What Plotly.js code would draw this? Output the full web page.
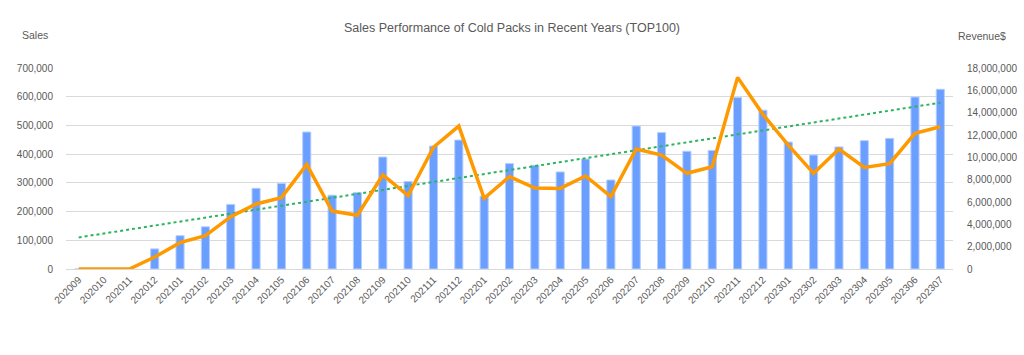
<!DOCTYPE html>
<html>
<head>
<meta charset="utf-8">
<script src="https://cdn.plot.ly/plotly-3.0.1.min.js"></script>
<style>html,body{margin:0;padding:0;background:#fff}#chart{width:1024px;height:355px}</style>
</head>
<body>
<div id="chart"></div>
<script>
const months = ["202009","202010","202011","202012","202101","202102","202103","202104","202105","202106","202107","202108","202109","202110","202111","202112","202201","202202","202203","202204","202205","202206","202207","202208","202209","202210","202211","202212","202301","202302","202303","202304","202305","202306","202307"];
const sales = [0,0,0,70000,116000,147000,225000,281000,298000,477000,257000,266000,390000,305000,428000,449000,254000,367000,361000,338000,383000,310000,498000,475000,410000,413000,597000,553000,442000,397000,425000,447000,455000,599000,626000];
const revenue = [0,0,0,1070000,2360000,2980000,4690000,5820000,6390000,9370000,5190000,4810000,8420000,6570000,10900000,12800000,6330000,8270000,7250000,7220000,8330000,6480000,10750000,10200000,8570000,9160000,17160000,13850000,11100000,8570000,10750000,9100000,9430000,12150000,12740000];

// linear trendline (least squares) of sales, as Excel draws it
const n = sales.length;
let sx=0, sy=0, sxy=0, sxx=0;
for (let i=0;i<n;i++){ sx+=i; sy+=sales[i]; sxy+=i*sales[i]; sxx+=i*i; }
const slope = (n*sxy - sx*sy)/(n*sxx - sx*sx);
const icpt = (sy - slope*sx)/n;
const trend = sales.map((_,i)=>icpt+slope*i);

const FONT = "Liberation Sans, Arial, sans-serif";
const GREY = "#595959";

const traces = [
  {type:"bar", x:months, y:sales, name:"Sales", width:0.32,
   marker:{color:"#6A9EFF", line:{color:"#B4CEFF", width:1}}, yaxis:"y"},
  {type:"scatter", mode:"lines", x:months, y:trend, name:"Trend", yaxis:"y",
   line:{color:"#2DB35D", width:2, dash:"dot"}},
  {type:"scatter", mode:"lines", x:months, y:revenue, name:"Revenue", yaxis:"y2",
   line:{color:"#FF9900", width:3.5}}
];

const L=66, R=71, T=68, B=86, W=1024, H=355;
const pw = W-L-R, ph = H-T-B;
const px = p => (p-L)/pw;
const py = p => (H-B-p)/ph;

const layout = {
  width:W, height:H,
  margin:{l:L, r:R, t:T, b:B, pad:0},
  paper_bgcolor:"#fff", plot_bgcolor:"#fff",
  showlegend:false,
  font:{family:FONT, color:GREY, size:10},
  title:{text:"Sales Performance of Cold Packs in Recent Years (TOP100)", font:{family:FONT, size:12.5, color:GREY}, x:0.5, xanchor:"center", y:1-28/H, yanchor:"middle"},
  xaxis:{type:"category", tickangle:-45, tickfont:{size:10, color:GREY}, showgrid:false,
         showline:true, linecolor:"#D9D9D9", linewidth:1, ticks:"", range:[-0.5, n-0.5], fixedrange:true},
  yaxis:{range:[0,700000], dtick:100000, tickformat:",", gridcolor:"#D9D9D9", gridwidth:1,
         zeroline:false, showline:false, ticks:"outside", ticklen:10, tickcolor:"rgba(0,0,0,0)", tickfont:{size:10, color:GREY}},
  yaxis2:{overlaying:"y", side:"right", range:[0,18000000], dtick:2000000, tickformat:",",
          showgrid:false, zeroline:false, showline:false, ticks:"outside", ticklen:11, tickcolor:"rgba(0,0,0,0)", tickfont:{size:10, color:GREY}},
  bargap:0.68,
  annotations:[
    {text:"Sales", xref:"paper", yref:"paper", x:px(20), y:py(35), xanchor:"left", yanchor:"middle", showarrow:false, font:{family:FONT, size:10.5, color:GREY}},
    {text:"Revenue$", xref:"paper", yref:"paper", x:px(956), y:py(36), xanchor:"left", yanchor:"middle", showarrow:false, font:{family:FONT, size:10.5, color:GREY}}
  ]
};

Plotly.newPlot("chart", traces, layout, {displayModeBar:false, staticPlot:true});
</script>
</body>
</html>
